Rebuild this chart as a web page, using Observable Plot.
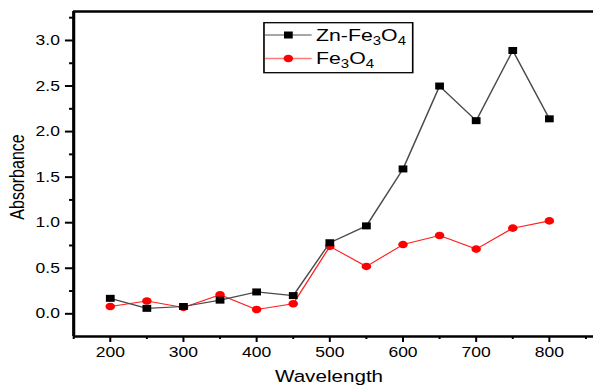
<!DOCTYPE html>
<html>
<head>
<meta charset="utf-8">
<script src="https://cdn.jsdelivr.net/npm/d3@7"></script>
<script src="https://cdn.jsdelivr.net/npm/@observablehq/plot@0.6"></script>
<style>
  html, body { margin: 0; padding: 0; background: white; }
  #wrap { width: 593px; height: 385px; overflow: hidden; position: relative; background: white; }
  #wrap svg { transform-origin: 0 0; display: block; }
</style>
</head>
<body>
<div id="wrap"></div>
<script>
// ---- data ----
const wavelength = [200, 250, 300, 350, 400, 450, 500, 550, 600, 650, 700, 750, 800];
const znFe3O4   = [0.17, 0.06, 0.08, 0.15, 0.24, 0.20, 0.78, 0.965, 1.59, 2.50, 2.12, 2.89, 2.14];
const fe3O4     = [0.08, 0.14, 0.07, 0.21, 0.047, 0.11, 0.74, 0.52, 0.76, 0.86, 0.71, 0.94, 1.02];
const seriesNames = ["Zn-Fe3O4", "Fe3O4"];
const xTicks = [200, 300, 400, 500, 600, 700, 800];
const xMinorTicks = [150, 250, 350, 450, 550, 650, 750, 850];
const yTicks = [0, 0.5, 1.0, 1.5, 2.0, 2.5, 3.0];
const yMinorTicks = [0.25, 0.75, 1.25, 1.75, 2.25, 2.75, 3.25];
const xDomain = [150, 860.5];
const yDomain = [-0.249, 3.318];

const zn = wavelength.map((w, i) => ({w, a: znFe3O4[i]}));
const fe = wavelength.map((w, i) => ({w, a: fe3O4[i]}));

const W = 474, H = 385, S = 593 / W;
const font = "'Liberation Sans', Arial, Helvetica, sans-serif";

const chart = Plot.plot({
  width: W, height: H,
  marginLeft: 58.4, marginRight: 0, marginTop: 11, marginBottom: 49,
  style: {fontFamily: font, color: "black", background: "white", overflow: "visible"},
  x: {domain: xDomain},
  y: {domain: yDomain},
  marks: [
    Plot.axisX(xTicks, {tickSize: 6, tickPadding: 5, fontSize: 14, strokeWidth: 1.6, label: null}),
    Plot.axisX(xMinorTicks, {tickSize: 3, text: null, strokeWidth: 1.6, label: null}),
    Plot.axisY(yTicks, {tickSize: 6.5, tickPadding: 4.5, fontSize: 14, strokeWidth: 2, tickFormat: d3.format(".1f"), label: null}),
    Plot.axisY(yMinorTicks, {tickSize: 3.2, text: null, strokeWidth: 2, label: null}),
    Plot.ruleY([yDomain[0]], {stroke: "black", strokeWidth: 2.5}),
    Plot.ruleY([yDomain[1]], {stroke: "black", strokeWidth: 2.5}),
    Plot.ruleX([xDomain[0]], {stroke: "black", strokeWidth: 2.5}),
    Plot.line(fe, {x: "w", y: "a", stroke: "#ff2020", strokeWidth: 1.1}),
    Plot.dot(fe, {x: "w", y: "a", fill: "#ff0000", r: 3.8, symbol: "circle"}),
    Plot.line(zn, {x: "w", y: "a", stroke: "#4a4a4a", strokeWidth: 1.2}),
    Plot.dot(zn, {x: "w", y: "a", fill: "black", r: 3.95, symbol: "square"})
  ]
});

chart.style.transform = `scaleX(${S})`;
const svg = d3.select(chart);

// axis titles
svg.append("text")
  .attr("transform", `translate(13.8,177) rotate(-90)`)
  .attr("text-anchor", "middle").attr("dy", "0.35em")
  .attr("font-size", 16).attr("font-family", font).attr("fill", "black")
  .text("Absorbance");
svg.append("text")
  .attr("x", 263).attr("y", 382.5)
  .attr("text-anchor", "middle")
  .attr("font-size", 16.5).attr("font-family", font).attr("fill", "black")
  .text("Wavelength");

// legend
const lg = svg.append("g").attr("font-family", font).attr("fill", "black").attr("text-anchor", "start");
lg.append("rect").attr("x", 211).attr("y", 22.7).attr("width", 118.9).attr("height", 50)
  .attr("fill", "white").attr("stroke", "black").attr("stroke-width", 1.3);
const legendItems = [
  {name: seriesNames[0], y: 35, line: "#8a8a8a", fill: "black", sym: d3.symbolSquare, r: 3.95},
  {name: seriesNames[1], y: 58.5, line: "#ff7a7a", fill: "#ff0000", sym: d3.symbolCircle, r: 3.8}
];
for (const it of legendItems) {
  lg.append("line").attr("x1", 211.8).attr("x2", 249.1).attr("y1", it.y).attr("y2", it.y)
    .attr("stroke", it.line).attr("stroke-width", 1.5);
  lg.append("path").attr("transform", `translate(230.5,${it.y})`)
    .attr("d", d3.symbol(it.sym, it.r * it.r * Math.PI)()).attr("fill", it.fill);
  const t = lg.append("text").attr("x", 252.6).attr("y", it.y + 6).attr("font-size", 17)
    .attr("text-anchor", "start");
  // digits rendered as subscripts
  const parts = it.name.split(/(\d)/).filter(p => p.length);
  let shift = 0;
  for (const p of parts) {
    const isSub = /^\d$/.test(p);
    const target = isSub ? 4 : 0;
    const ts = t.append("tspan").text(p);
    if (target !== shift) ts.attr("dy", target - shift);
    if (isSub) ts.attr("font-size", 12);
    shift = target;
  }
}

document.getElementById("wrap").appendChild(chart);
</script>
</body>
</html>
